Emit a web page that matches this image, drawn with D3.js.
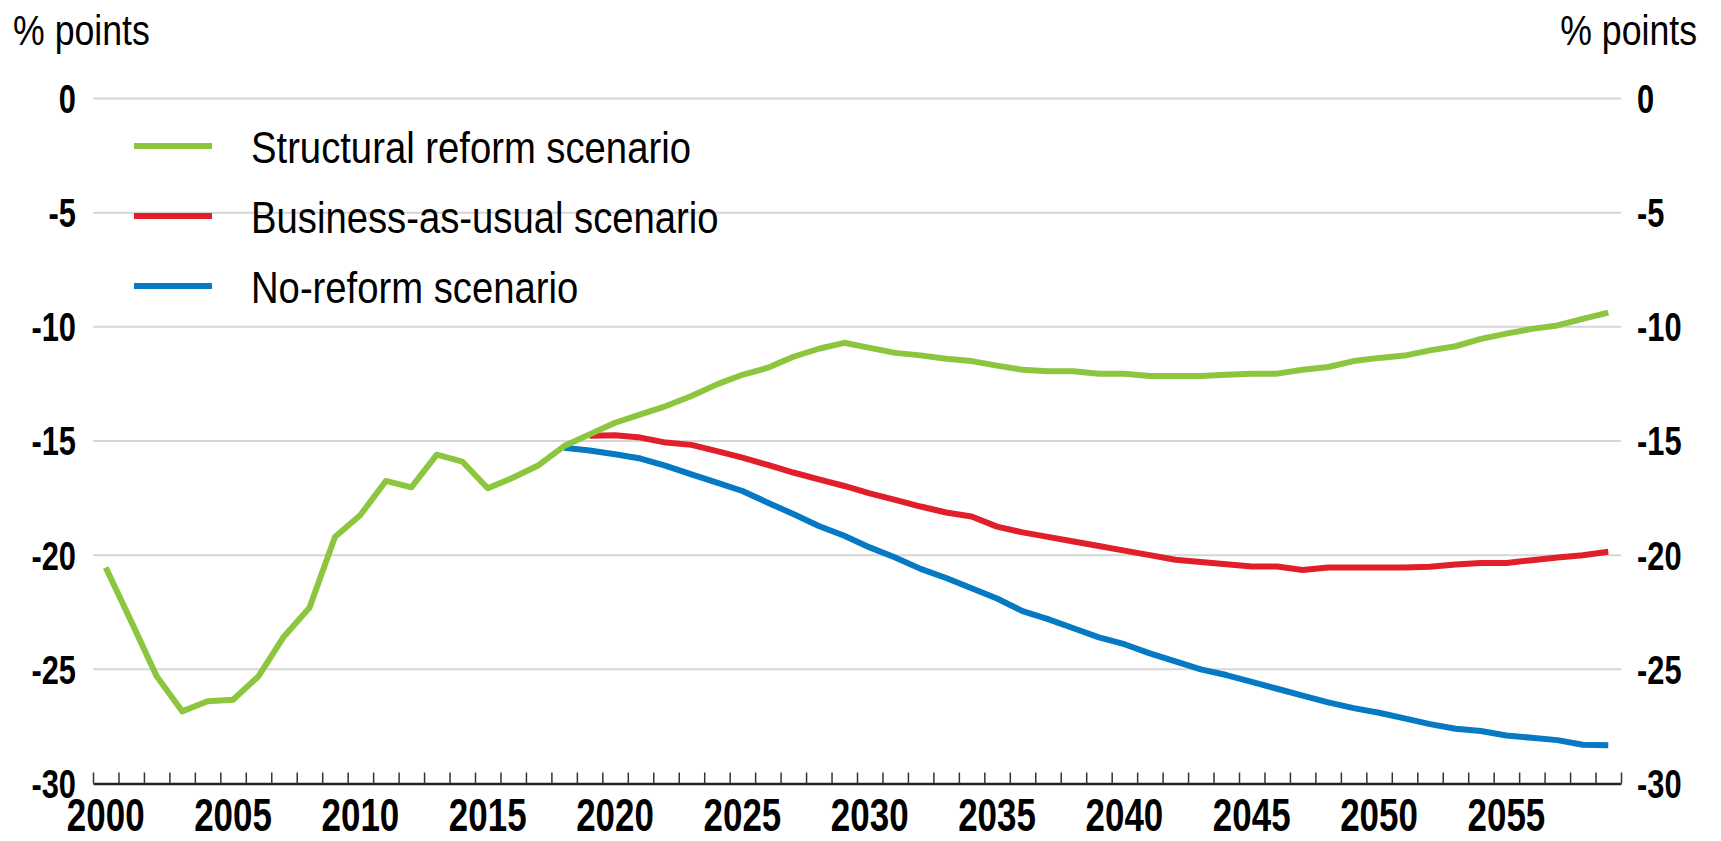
<!DOCTYPE html>
<html>
<head>
<meta charset="utf-8">
<script src="https://cdn.jsdelivr.net/npm/d3@7"></script>
<style>
  body { margin: 0; background: #fff; }
  text { font-family: "Liberation Sans", Arial, sans-serif; }
</style>
</head>
<body>
<script>
// taille du graphe
var larg = 1721;
var haut = 841;

// données
var years = d3.range(2000, 2060);
var structural = [-20.54, -22.9, -25.3, -26.84, -26.4, -26.33, -25.3, -23.56, -22.3, -19.2,
  -18.24, -16.75, -17.03, -15.6, -15.9, -17.07, -16.6, -16.06, -15.22, -14.71,
  -14.2, -13.83, -13.47, -13.03, -12.52, -12.1, -11.79, -11.31, -10.96, -10.7,
  -10.92, -11.14, -11.25, -11.4, -11.5, -11.7, -11.88, -11.95, -11.95, -12.05,
  -12.05, -12.15, -12.15, -12.15, -12.1, -12.05, -12.05, -11.88, -11.76, -11.5,
  -11.36, -11.26, -11.03, -10.85, -10.53, -10.3, -10.09, -9.94, -9.65, -9.38];
var business = [null, null, null, null, null, null, null, null, null, null,
  null, null, null, null, null, null, null, null, null, -14.77,
  -14.75, -14.85, -15.07, -15.17, -15.44, -15.73, -16.05, -16.38, -16.68, -16.97,
  -17.29, -17.58, -17.87, -18.13, -18.31, -18.75, -19.0, -19.2, -19.4, -19.6,
  -19.8, -20.0, -20.2, -20.3, -20.4, -20.5, -20.5, -20.65, -20.54, -20.54,
  -20.54, -20.54, -20.51, -20.41, -20.34, -20.34, -20.22, -20.1, -20.0, -19.85];
var noReform = [null, null, null, null, null, null, null, null, null, null,
  null, null, null, null, null, null, null, null, -15.3, -15.42,
  -15.58, -15.77, -16.09, -16.46, -16.82, -17.19, -17.7, -18.2, -18.72, -19.15,
  -19.66, -20.1, -20.6, -21.0, -21.45, -21.9, -22.45, -22.8, -23.2, -23.6,
  -23.9, -24.3, -24.65, -25.0, -25.25, -25.55, -25.85, -26.15, -26.45, -26.7,
  -26.9, -27.15, -27.4, -27.6, -27.7, -27.9, -28.0, -28.1, -28.3, -28.33];
var seriesNames = ["Structural reform scenario", "Business-as-usual scenario", "No-reform scenario"];
var seriesColors = ["#8cc63f", "#e01f2b", "#0579c3"];
var yTicks = [0, -5, -10, -15, -20, -25, -30];
var xLabels = [2000, 2005, 2010, 2015, 2020, 2025, 2030, 2035, 2040, 2045, 2050, 2055];
var unit = "% points";

var g = { left: 93, right: 1621, top: 98.5, bottom: 783.5 };

var x = d3.scaleLinear().domain([2000, 2060]).range([g.left, g.right]);
var y = d3.scaleLinear().domain([-30, 0]).range([g.bottom, g.top]);

var svg = d3.select("body").append("svg")
  .attr("width", larg)
  .attr("height", haut);

// police étroite : on comprime en largeur
function serre(px, py, sx) {
  return "translate(" + px + "," + py + ") scale(" + sx + ",1)";
}

// grille
svg.append("g").selectAll("line")
  .data(yTicks.filter(function(d) { return d > -30; }))
  .enter().append("line")
  .attr("x1", g.left).attr("x2", g.right)
  .attr("y1", function(d) { return y(d); })
  .attr("y2", function(d) { return y(d); })
  .attr("stroke", "#d6d6d6")
  .attr("stroke-width", 2);

// axe des x (graduations vers le haut)
var xAxis = svg.append("g")
  .attr("transform", "translate(0," + g.bottom + ")")
  .call(d3.axisBottom(x).tickValues(d3.range(2000, 2061)).tickSize(-11).tickSizeOuter(0).tickFormat(""));
xAxis.select(".domain").attr("stroke", "#222").attr("stroke-width", 2.5);
xAxis.selectAll(".tick line").attr("stroke", "#333").attr("stroke-width", 1.5);

// libellés des années
svg.append("g").selectAll("text")
  .data(xLabels)
  .enter().append("text")
  .attr("transform", function(d) { return serre(x(d + 0.5), 831, 0.76); })
  .attr("text-anchor", "middle")
  .attr("font-size", "46px")
  .attr("font-weight", "bold")
  .attr("fill", "#000")
  .text(function(d) { return d; });

// axes des y
svg.append("g").selectAll("text")
  .data(yTicks)
  .enter().append("text")
  .attr("transform", function(d) { return serre(76, y(d), 0.77); })
  .attr("dy", "0.36em")
  .attr("text-anchor", "end")
  .attr("font-size", "40px")
  .attr("font-weight", "bold")
  .text(function(d) { return d; });

svg.append("g").selectAll("text")
  .data(yTicks)
  .enter().append("text")
  .attr("transform", function(d) { return serre(1637, y(d), 0.77); })
  .attr("dy", "0.36em")
  .attr("text-anchor", "start")
  .attr("font-size", "40px")
  .attr("font-weight", "bold")
  .text(function(d) { return d; });

svg.append("text").attr("transform", serre(13, 45, 0.83))
  .attr("font-size", "43px").text(unit);
svg.append("text").attr("transform", serre(1697, 45, 0.83))
  .attr("text-anchor", "end").attr("font-size", "43px").text(unit);

// courbes
var series = [noReform, business, structural];
var couleurs = [seriesColors[2], seriesColors[1], seriesColors[0]];
var ligne = d3.line()
  .defined(function(d) { return d != null; })
  .x(function(d, i) { return x(years[i] + 0.5); })
  .y(function(d) { return y(d); });

svg.append("g").selectAll("path")
  .data(series)
  .enter().append("path")
  .attr("d", ligne)
  .attr("fill", "none")
  .attr("stroke", function(d, i) { return couleurs[i]; })
  .attr("stroke-width", 6)
  .attr("stroke-linejoin", "round");

// légende
var leg = svg.append("g").selectAll("g")
  .data(seriesNames)
  .enter().append("g")
  .attr("transform", function(d, i) { return "translate(0," + (146 + i * 70) + ")"; });
leg.append("line")
  .attr("x1", 134).attr("x2", 212)
  .attr("stroke", function(d, i) { return seriesColors[i]; })
  .attr("stroke-width", 6);
leg.append("text")
  .attr("transform", serre(251, 17, 0.85))
  .attr("font-size", "45px")
  .text(function(d) { return d; });
</script>
</body>
</html>
